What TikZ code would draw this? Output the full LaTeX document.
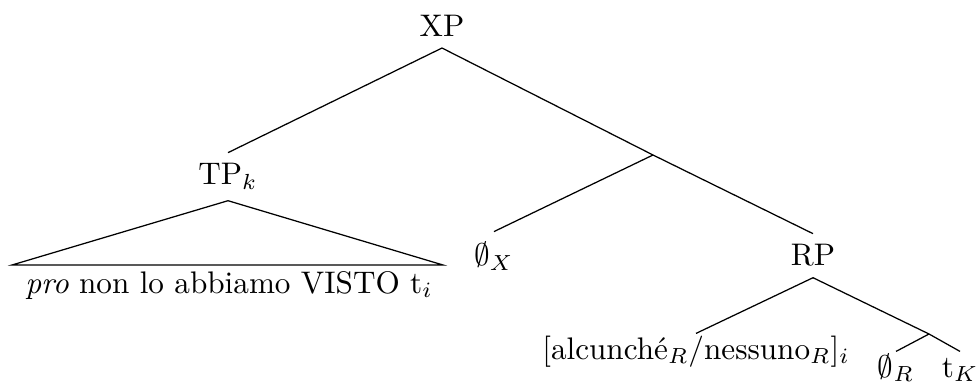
\documentclass[tikz,border=0pt]{standalone}
\usepackage{amsmath}

\begin{document}
\begin{tikzpicture}[x=0.3205pt,y=-0.3205pt,every node/.style={anchor=base},leaf/.style={inner sep=0.5pt,text height=7.5pt}]
    \useasboundingbox (0,0) rectangle (978,382);
    \node (xp) at (442,37) {XP};
    \node (tp) at (228,185) {TP$_k$};
    \coordinate (x1) at (653,155);
    \node (ox) at (494,266) {$\emptyset_X$};
    \node (rp) at (813,266) {RP};
    \coordinate (roofl) at (12,265);
    \coordinate (roofr) at (443,265);
    \node (pro) at (229,293) {\textit{pro} non lo abbiamo VISTO t$_i$};
    \node[leaf] (alc) at (696,359) {[alcunch\'e$_R$/nessuno$_R$]$_i$};
    \coordinate (r1) at (929,334);
    \node[leaf] (orr) at (896,377) {$\emptyset_R$};
    \node[leaf] (tk) at (960,377) {t$_K$};
    \draw (xp.south)-- (tp.north);
    \draw (xp.south)-- (x1);
    \draw (x1)-- (ox.north);
    \draw (x1)-- (rp.north);
    \draw (tp.south)-- (roofl)-- (roofr)-- cycle;
    \draw (rp.south)-- (alc.north);
    \draw (rp.south)-- (r1);
    \draw (r1)-- (orr.north);
    \draw (r1)-- (tk.north);
\end{tikzpicture}
\end{document}
